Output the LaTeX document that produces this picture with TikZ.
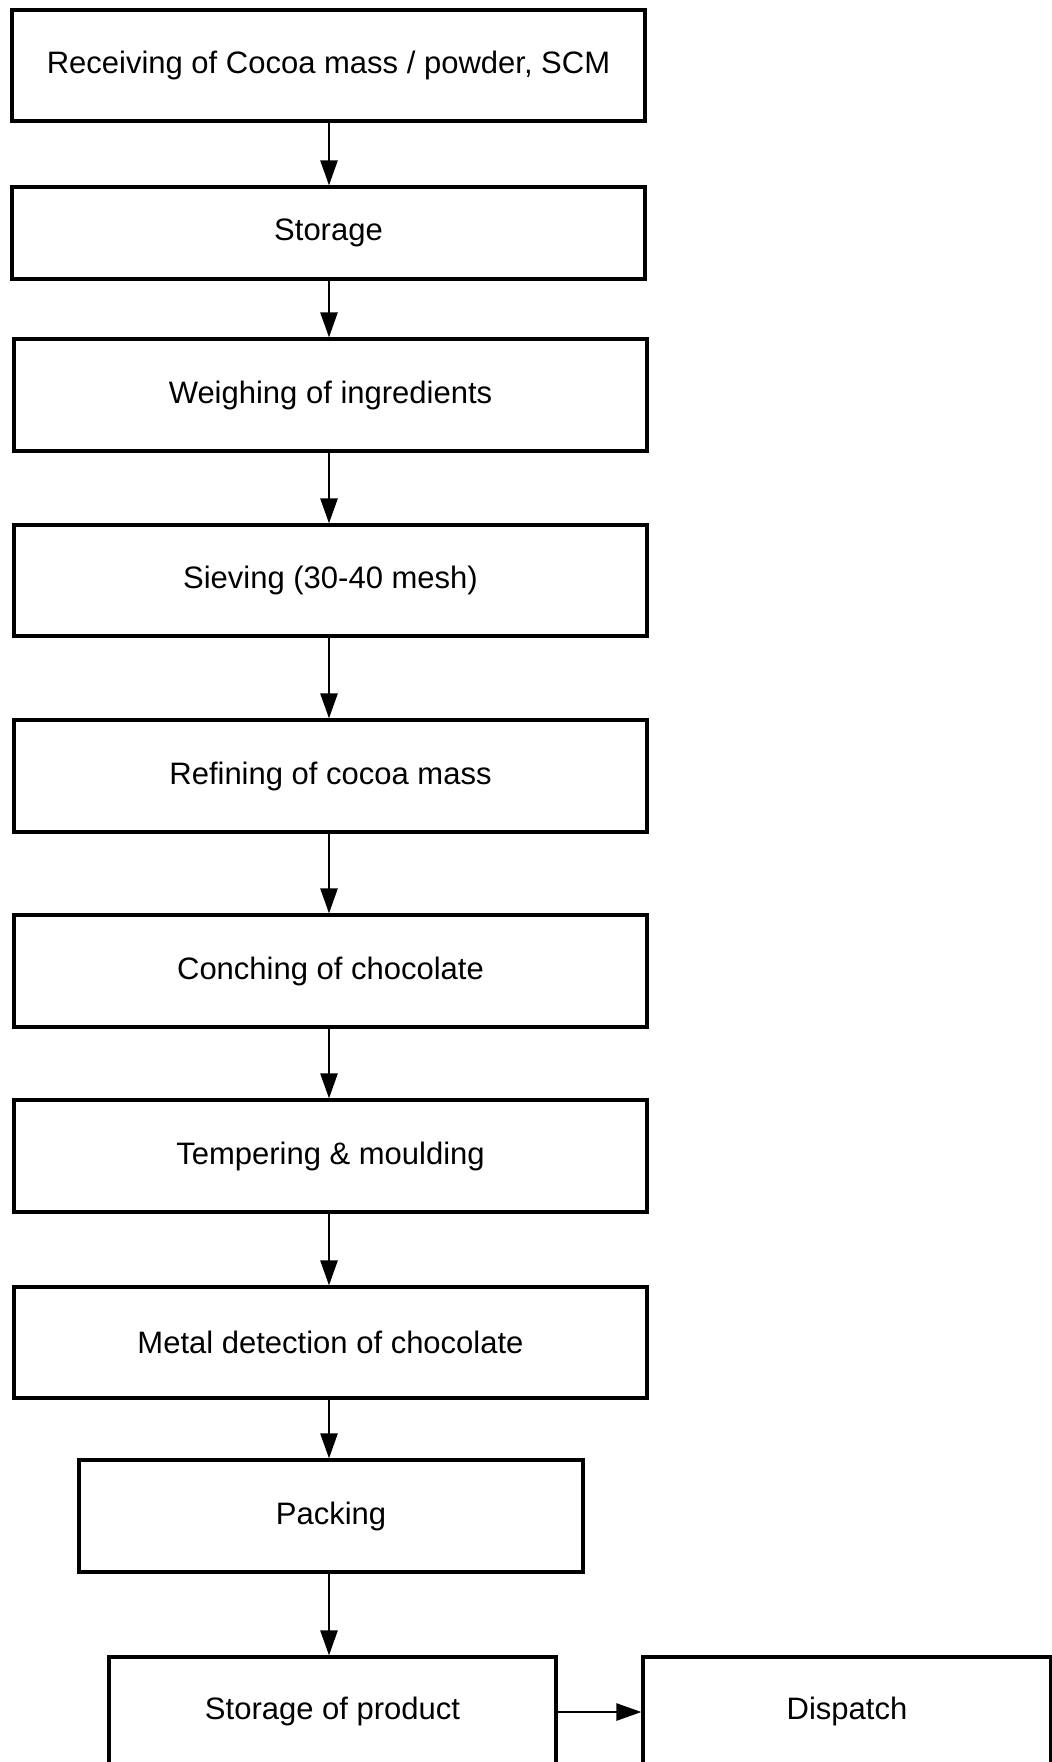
\documentclass[tikz,border=0pt]{standalone}
\usepackage{fontspec}
\setmainfont{Liberation Sans}
\usetikzlibrary{arrows.meta}
\begin{document}
\begin{tikzpicture}[x=1pt,y=-1pt,
  box/.style={draw=black,line width=3.2pt,fill=white,rectangle,inner sep=0pt,
    font=\fontsize{31}{37}\selectfont},
  flow/.style={line width=2.6pt,-{Triangle[length=25pt,width=17pt]}}]
\useasboundingbox (0,0) rectangle (1052,1762);
\clip (0,0) rectangle (1052,1762);
\fill[white] (0,0) rectangle (1052,1762);
\newcommand{\boxat}[6]{\node[box,minimum width={#4-#2},minimum height={#5-#3}] (#1) at ({(#2+#4)/2},{(#3+#5)/2}) {#6};}
\boxat{b1}{12}{10}{645}{121}{Receiving of Cocoa mass / powder, SCM}
\boxat{b2}{12}{187}{645}{279}{Storage}
\boxat{b3}{14}{339}{647}{451}{Weighing of ingredients}
\boxat{b4}{14}{525}{647}{636}{Sieving (30-40 mesh)}
\boxat{b5}{14}{720}{647}{832}{Refining of cocoa mass}
\boxat{b6}{14}{915}{647}{1027}{Conching of chocolate}
\boxat{b7}{14}{1100}{647}{1212}{Tempering \& moulding}
\boxat{b8}{14}{1287}{647}{1398}{Metal detection of chocolate}
\boxat{b9}{79}{1460}{583}{1572}{Packing}
\boxat{b10}{109}{1657}{556}{1766}{Storage of product}
\boxat{b11}{643}{1657}{1051}{1766}{Dispatch}
\coordinate (ax) at (329,0);
\coordinate (ay) at (0,1712);
\draw[flow] (b1.south -| ax) -- (b2.north -| ax);
\draw[flow] (b2.south -| ax) -- (b3.north -| ax);
\draw[flow] (b3.south -| ax) -- (b4.north -| ax);
\draw[flow] (b4.south -| ax) -- (b5.north -| ax);
\draw[flow] (b5.south -| ax) -- (b6.north -| ax);
\draw[flow] (b6.south -| ax) -- (b7.north -| ax);
\draw[flow] (b7.south -| ax) -- (b8.north -| ax);
\draw[flow] (b8.south -| ax) -- (b9.north -| ax);
\draw[flow] (b9.south -| ax) -- (b10.north -| ax);
\draw[flow] (b10.east |- ay) -- (b11.west |- ay);
\end{tikzpicture}
\end{document}
